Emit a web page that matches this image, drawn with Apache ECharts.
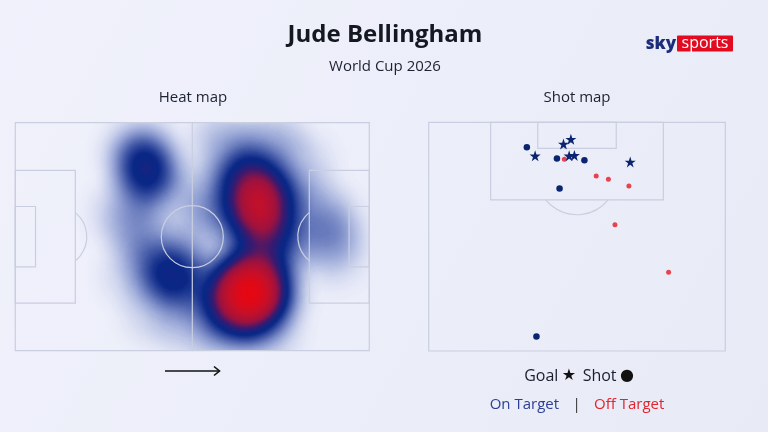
<!DOCTYPE html>
<html><head><meta charset="utf-8">
<script src="https://cdn.jsdelivr.net/npm/echarts@6/dist/echarts.min.js"></script>
<style>html,body{margin:0;padding:0;background:#eef0fa}#c{width:768px;height:432px}</style>
</head><body><div id="c"></div>
<script>
// ---- Data (pitch metres; heat map x 0-105 left->right, y 0-68 top->bottom) ----
const heatPoints = [
  [37.5, 10, 0.5], [40, 17, 0.5],
  [33, 27, 0.2], [38, 34, 0.22], [36, 45, 0.15], [42, 56, 0.15],
  [47, 45, 0.5], [43, 42, 0.2], [51, 49, 0.25],
  [55, 32, 0.18], [57, 22, 0.2],
  [69, 15, 0.55], [73, 21, 0.65], [72, 28, 0.65], [66, 23, 0.35], [78, 24, 0.35], [71, 33, 0.35],
  [78, 36, 0.45],
  [66, 47, 0.65], [72, 45, 0.6], [70, 52, 0.75], [75, 51, 0.6], [63, 53, 0.55], [68, 57, 0.45],
  [62, 6, 0.2], [76, 6, 0.2], [84, 13, 0.15],
  [93, 31, 0.25], [94, 38, 0.18], [88, 24, 0.15],
  [62, 61, 0.25], [74, 61, 0.25], [52, 60, 0.15]
];
// Shot map (half pitch: x 0-68 across, y 0-52.5 from goal line)
const goalsOnTarget = [[24.4, 7.7], [30.9, 5.0], [32.6, 3.9], [32.2, 7.7], [33.4, 7.6], [46.2, 9.1]];
const shotsOnTarget = [[22.5, 5.7], [29.4, 8.3], [35.7, 8.7], [30.0, 15.2], [24.7, 49.2]];
const shotsOffTarget = [[31.1, 8.5], [38.4, 12.3], [41.2, 13.1], [45.9, 14.6], [42.7, 23.5], [55.0, 34.4]];
const legendRow1 = ['Goal', '★', 'Shot', '●'];
const legendRow2 = ['On Target', '|', 'Off Target'];

const LINE = '#c9cee0';
const NAVY = '#0b2470';
const RED = '#e8424f';
const FONT = '"Open Sans", "DejaVu Sans", sans-serif';
const STAR = 'path://M50,0 L61.8,35.1 L98.9,35.1 L68.9,56.7 L80.3,91.9 L50,70 L19.7,91.9 L31.1,56.7 L1.1,35.1 L38.2,35.1 Z';

echarts.registerMap('pitch', {type: 'FeatureCollection', features: [{type: 'Feature', properties: {name: 'pitch'},
  geometry: {type: 'Polygon', coordinates: [[[0, 0], [105, 0], [105, 68], [0, 68], [0, 0]]]}}]});

function rectEl(api, x0, y0, x1, y1, st) {
  const a = api.coord([x0, y0]), b = api.coord([x1, y1]);
  return {type: 'rect', shape: {x: Math.min(a[0], b[0]), y: Math.min(a[1], b[1]), width: Math.abs(b[0] - a[0]), height: Math.abs(b[1] - a[1])}, style: st};
}
function lineEl(api, x0, y0, x1, y1, st) {
  const a = api.coord([x0, y0]), b = api.coord([x1, y1]);
  return {type: 'line', shape: {x1: a[0], y1: a[1], x2: b[0], y2: b[1]}, style: st};
}
function arcEl(api, cx, cy, r, s, e, st) {
  const c = api.coord([cx, cy]); const rr = api.size([r, 0])[0];
  return {type: 'arc', shape: {cx: c[0], cy: c[1], r: rr, startAngle: s, endAngle: e, clockwise: true}, style: st};
}
const PA = 17.8, GA = 6, SPOT = 12, R = 9.2;
function fullPitch(params, api) {
  const st = {stroke: LINE, fill: 'none', lineWidth: 1.2};
  const t = Math.acos((PA - SPOT) / R);
  return {type: 'group', children: [
    rectEl(api, 0, 0, 105, 68, st),
    lineEl(api, 52.5, 0, 52.5, 68, st),
    arcEl(api, 52.5, 34, R, 0, Math.PI * 2, st),
    rectEl(api, 0, 14.2, PA, 53.8, st), rectEl(api, 0, 25, GA, 43, st),
    rectEl(api, 105 - PA, 14.2, 105, 53.8, st), rectEl(api, 105 - GA, 25, 105, 43, st),
    arcEl(api, SPOT, 34, R, -t, t, st),
    arcEl(api, 105 - SPOT, 34, R, Math.PI - t, Math.PI + t, st)
  ]};
}
function halfPitch(params, api) {
  const st = {stroke: LINE, fill: 'none', lineWidth: 1.2};
  const t = Math.acos((PA - SPOT) / R);
  return {type: 'group', children: [
    rectEl(api, 0, 0, 68, 52.5, st),
    rectEl(api, 14.2, 0, 53.8, PA, st), rectEl(api, 25, 0, 43, GA, st),
    arcEl(api, 34, SPOT, R, Math.PI / 2 - t, Math.PI / 2 + t, st)
  ]};
}

const chart = echarts.init(document.getElementById('c'), null, {renderer: 'canvas'});
chart.setOption({
  animation: false,
  backgroundColor: {type: 'linear', x: 0, y: 0, x2: 1, y2: 1, colorStops: [
    {offset: 0, color: '#f0f1fb'}, {offset: 0.5, color: '#eceef9'}, {offset: 1, color: '#e8eaf6'}]},
  geo: {map: 'pitch', left: 15.3, top: 122.7, width: 354, height: 228, roam: false, silent: true,
    itemStyle: {areaColor: 'rgba(0,0,0,0)', borderColor: 'rgba(0,0,0,0)', borderWidth: 0},
    emphasis: {disabled: true}, select: {disabled: true}, label: {show: false}},
  grid: [
    {left: 15.3, top: 122.7, width: 354, height: 228},
    {left: 428.7, top: 122.3, width: 296.6, height: 228.7}
  ],
  xAxis: [
    {gridIndex: 0, type: 'value', min: 0, max: 105, show: false},
    {gridIndex: 1, type: 'value', min: 0, max: 68, show: false}
  ],
  yAxis: [
    {gridIndex: 0, type: 'value', min: 0, max: 68, inverse: true, show: false},
    {gridIndex: 1, type: 'value', min: 0, max: 52.5, inverse: true, show: false}
  ],
  visualMap: {type: 'continuous', show: false, min: 0, max: 1, seriesIndex: 0, calculable: false,
    inRange: {color: ['#3252b2', '#2a4aac', '#2040a5', '#18359a', '#102c8e', '#0b2888', '#0b2785', '#3a1a70', '#9c1240', '#c80f28', '#ff0000']}},
  series: [
    {type: 'heatmap', coordinateSystem: 'geo', geoIndex: 0, pointSize: 28, blurSize: 28, minOpacity: 0, maxOpacity: 1.8,
      silent: true, z: 2, data: heatPoints.map(p => [p[0], 68 - p[1], p[2]])},
    {type: 'custom', xAxisIndex: 0, yAxisIndex: 0, renderItem: fullPitch, data: [[0, 0]], silent: true, z: 5},
    {type: 'custom', xAxisIndex: 1, yAxisIndex: 1, renderItem: halfPitch, data: [[0, 0]], silent: true, z: 5},
    {type: 'scatter', xAxisIndex: 1, yAxisIndex: 1, data: shotsOffTarget, symbol: 'circle', symbolSize: 5, itemStyle: {color: RED, opacity: 1}, z: 10, silent: true},
    {type: 'scatter', xAxisIndex: 1, yAxisIndex: 1, data: shotsOnTarget, symbol: 'circle', symbolSize: 6.5, itemStyle: {color: NAVY, opacity: 1}, z: 11, silent: true},
    {type: 'scatter', xAxisIndex: 1, yAxisIndex: 1, data: goalsOnTarget, symbol: STAR, symbolSize: 11, itemStyle: {color: NAVY, opacity: 1}, z: 12, silent: true}
  ],
  graphic: [
    {type: 'text', x: 385, y: 35, style: {text: 'Jude Bellingham', font: 'bold 24px ' + FONT, fill: '#141821', align: 'center', verticalAlign: 'middle'}},
    {type: 'text', x: 385, y: 67, style: {text: 'World Cup 2026', font: '15px ' + FONT, fill: '#1d2130', align: 'center', verticalAlign: 'middle'}},
    {type: 'text', x: 193, y: 98, style: {text: 'Heat map', font: '15px ' + FONT, fill: '#1d2130', align: 'center', verticalAlign: 'middle'}},
    {type: 'text', x: 577, y: 98, style: {text: 'Shot map', font: '15px ' + FONT, fill: '#1d2130', align: 'center', verticalAlign: 'middle'}},
    {type: 'line', shape: {x1: 165, y1: 371, x2: 219, y2: 371}, style: {stroke: '#111', lineWidth: 1.6}},
    {type: 'polyline', shape: {points: [[214, 366.5], [219.5, 371], [214, 375.5]]}, style: {stroke: '#111', lineWidth: 1.6, fill: 'none'}},
    {type: 'text', x: 676, y: 44, style: {text: 'sky', font: '800 17px ' + FONT, fill: '#1b2d7a', align: 'right', verticalAlign: 'middle'}},
    {type: 'rect', shape: {x: 677, y: 35.5, width: 56, height: 16, r: 1}, style: {fill: '#e20b1f'}},
    {type: 'text', x: 705, y: 43.5, style: {text: 'sports', font: '16px ' + FONT, fill: '#ffffff', align: 'center', verticalAlign: 'middle'}},
    {type: 'text', x: 579, y: 376, style: {
      text: '{a|' + legendRow1[0] + '} {s|' + legendRow1[1] + '}  {a|' + legendRow1[2] + '} {s|' + legendRow1[3] + '}',
      align: 'center', verticalAlign: 'middle',
      rich: {a: {font: '16px ' + FONT, fill: '#1a1d2b'}, s: {font: '16px "DejaVu Sans", sans-serif', fill: '#111'}}}},
    {type: 'text', x: 577, y: 405, style: {
      text: '{b|' + legendRow2[0] + '}    {g|' + legendRow2[1] + '}    {r|' + legendRow2[2] + '}',
      align: 'center', verticalAlign: 'middle',
      rich: {b: {font: '15px ' + FONT, fill: '#2b3f95'}, g: {font: '15px ' + FONT, fill: '#333'}, r: {font: '15px ' + FONT, fill: '#e2242e'}}}}
  ]
});
</script></body></html>
